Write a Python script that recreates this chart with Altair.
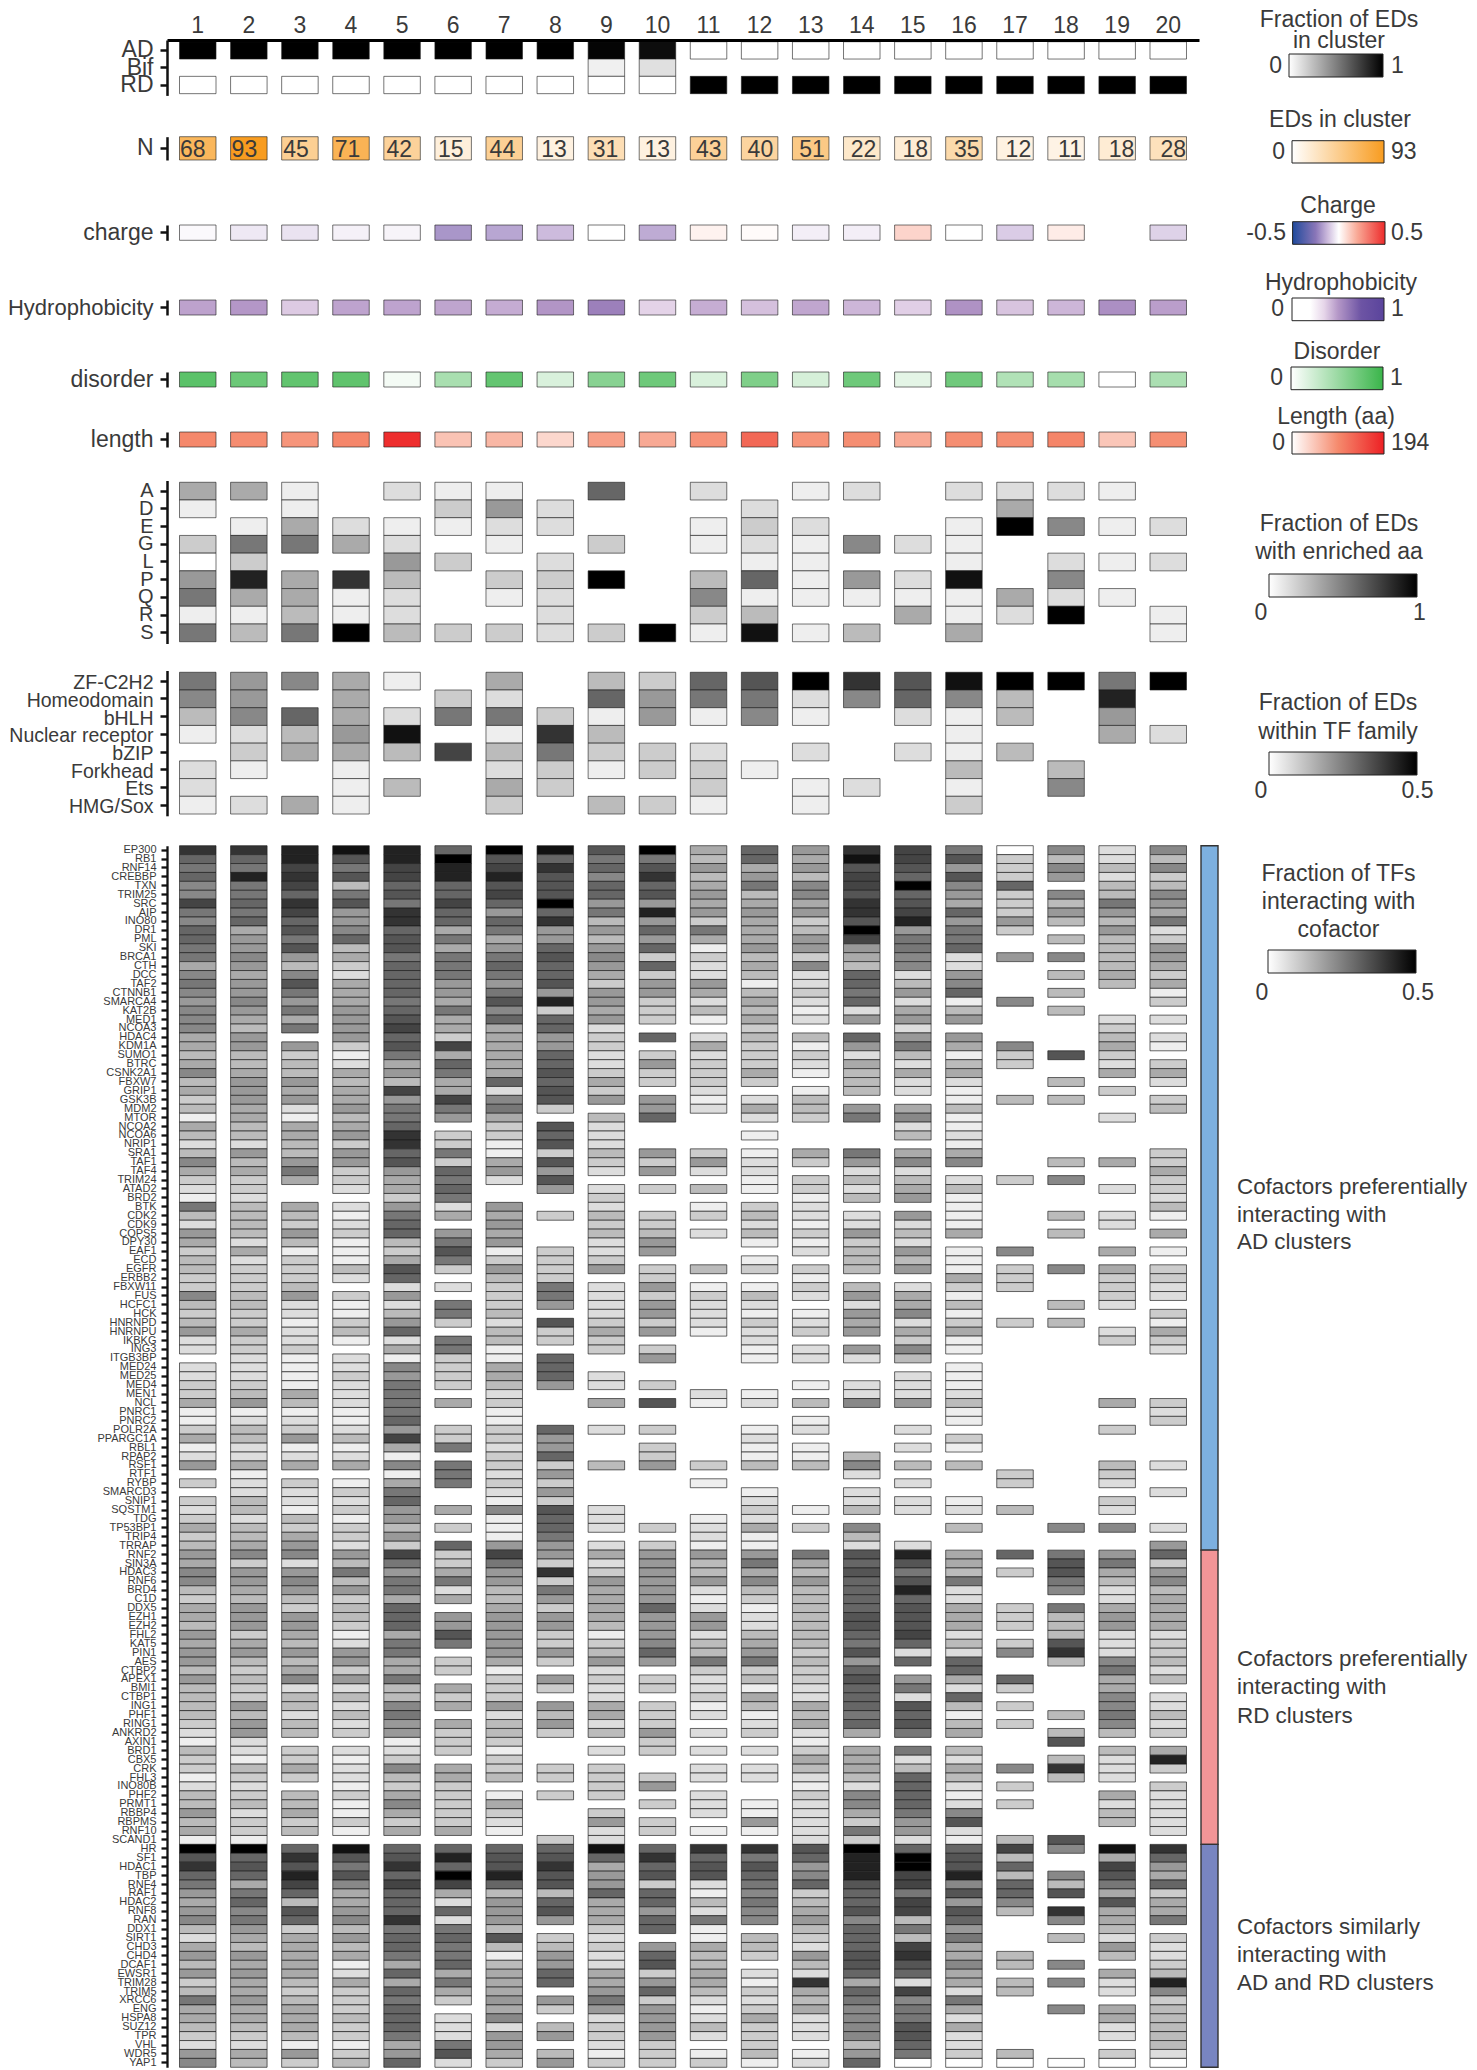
import altair as alt
import pandas as pd

FONT = "Liberation Sans"
TEXT = "#3a3a3a"
CLUSTERS = [str(i) for i in range(1, 21)]

AD = [1, 1, 1, 1, 1, 1, 1, 1, 0.98, 0.95, 0, 0, 0, 0, 0, 0, 0, 0, 0, 0]
BIF = [None] * 8 + [0.06, 0.12] + [None] * 10
RD = [0] * 10 + [1] * 10
N_EDS = [68, 93, 45, 71, 42, 15, 44, 13, 31, 13, 43, 40, 51, 22, 18, 35, 12, 11, 18, 28]
CHARGE = [-0.01, -0.04, -0.05, -0.025, -0.02, -0.19, -0.16, -0.12, 0.0, -0.15, 0.03, 0.01,
          -0.03, -0.03, 0.1, 0.0, -0.09, 0.045, None, -0.08]
HYDRO = [0.473, 0.5, 0.377, 0.47, 0.47, 0.467, 0.449, 0.507, 0.584, 0.356, 0.446, 0.401,
         0.464, 0.425, 0.365, 0.518, 0.392, 0.425, 0.528, 0.482]
DISORDER = [0.83, 0.746, 0.797, 0.807, 0.056, 0.437, 0.787, 0.193, 0.604, 0.736, 0.193, 0.65,
            0.208, 0.736, 0.137, 0.726, 0.396, 0.452, 0.0, 0.426]
LENGTH = [99, 95, 88, 101, 181, 50, 60, 33, 80, 71, 90, 128, 89, 94, 71, 94, 94, 102, 47, 93]

AA_ROWS = ["A", "D", "E", "G", "L", "P", "Q", "R", "S"]
AA_LEVELS = [
    "551.211.9.2.12.2221.",
    "1.1..362...2....5...",
    ".1521122..132..1f712",
    "38852.1.3.121721....",
    "03..63.2...11..1.212",
    "6d5c4.33f.49162e.7..",
    "85512.12..711111521.",
    "11412..2..34..512f.1",
    "848f43323f1e14.5...1",
]
TF_ROWS = ["ZF-C2H2", "Homeodomain", "bHLH", "Nuclear receptor", "bZIP", "Forkhead", "Ets", "HMG/Sox"]
TF_LEVELS = [
    "86751.5.439afcaeff8f",
    "76.5.32.968827974.d.",
    "4795288316171.214.6.",
    "1246e.1c4......1..52",
    ".3554b48332.2.214...",
    "21.1..231331...4.4..",
    "2..14.53..3.12.1.7..",
    "1251..3.431.1..3....",
]

COFACTORS = """EP300 RB1 RNF14 CREBBP TXN TRIM25 SRC AIP INO80 DR1 PML SKI BRCA1 CTH DCC TAF2 CTNNB1
SMARCA4 KAT2B MED1 NCOA3 HDAC4 KDM1A SUMO1 BTRC CSNK2A1 FBXW7 GRIP1 GSK3B MDM2 MTOR NCOA2 NCOA6
NRIP1 SRA1 TAF1 TAF4 TRIM24 ATAD2 BRD2 BTK CDK2 CDK9 COPS5 DPY30 EAF1 ECD EGFR ERBB2 FBXW11 FUS
HCFC1 HCK HNRNPD HNRNPU IKBKG ING3 ITGB3BP MED24 MED25 MED4 MEN1 NCL PNRC1 PNRC2 POLR2A PPARGC1A
RBL1 RPAP2 RSF1 RTF1 RYBP SMARCD3 SNIP1 SQSTM1 TDG TP53BP1 TRIP4 TRRAP RNF2 SIN3A HDAC3 RNF6 BRD4
C1D DDX5 EZH1 EZH2 FHL2 KAT5 PIN1 AES CTBP2 APEX1 BMI1 CTBP1 ING1 PHF1 RING1 ANKRD2 AXIN1 BRD1
CBX5 CRK FHL3 INO80B PHF2 PRMT1 RBBP4 RBPMS RNF10 SCAND1 HR SF1 HDAC1 TBP RNF4 RAF1 HDAC2 RNF8 RAN
DDX1 SIRT1 CHD3 CHD4 DCAF1 EWSR1 TRIM28 TRIM5 XRCC6 ENG HSPA8 SUZ12 TPR VHL WDR5 YAP1""".split()

# one string per cluster, one hex digit per cofactor (darkness level), "." = no cell
C01 = ["c98977b879988578767775545745341542", "47532184265344337434622.22335113512", "6.3.32353465774355465664644443", "2143", "312446451fac9865674256463485543267"]
C02 = ["c98d889895667656676546644566655442", "64533244442523334433533222346124422", "5122442445736654666356434336466221", "432342331f9a958978654656556554", "3254"]
C03 = ["ddbcb9cb9a8a647a86858.63446562", "1554", "4685..54364133346221223111154123612", "5.322143567267643665464572442", "44.33", "53.44534.9cadb94a93555554345554163"]
C04 = ["ea8a48a667945325556666312545564563", "66332.212311142.311341.223222112412", "5.13231332648463443126636242423.21", "22131131.ea8a755674645125333433134"]
C05 = ["ddbb9a8cc9aa8999989ab9a8564b6889cc", "9a65536899435a926246925176888896b51", "7158966463b86885999588558447866123", "74357535.9ac9b999c8998595989998569"]
C06 = ["9fdd99b995858886658553b59855b86.33", "83989825.68a83.2.883.883333.5..338.", "888..5.3.9335825.66a8.33.535.5333.", "55333335.9d9fb5292898895853.2228a2"]
C07 = ["fabdab96985689868a7955555592785331", "1562..65656136433342441155423113323", "3232171116b86644566666513336244313", "34.15321.9aad946664a41455565726653"]
C08 = ["e9caaaf9c669a99a6d3996699a9aa3.a9a", "3a6a6..3...3333886.a33.9996....9669", "36363a998663c3863663363.63.6463...", "33.3....39acaa49a6.346699.63.46.46"]
C09 = ["a8979968464676536656233223536.4222", "432.2324342236.22223533..22.5..2...", "4....222.2523655554134623225524.2.", "3333.3622e956695553232255686233213"]
C10 = ["f8ac9a6d696939366333.9.3633.669...", "636.3..33466.33636636.36..3.a..3.33", "6......3.36666669666796.33.333633.", ".36.3.33.9c9a399699.69a36936666333"]
C11 = ["54645656385132265241.252333212....", "362.4.13.2...4.132221......21......", "3.1...12216446212662448322312.2.2.", "22.222.1.c9aa214281154455421242.13"]
C12 = ["995684565556454145453433353.252.1.", "12211.34241.13.142132211...12..1211", "4..1232511685743122456834154123.2.", "22..1161.c8a987877.443.21323533341"]
C13 = ["6564775634663722", "3212.41321.1443...", "53.331221312.3132.123.22..1.4.12.11", "4....1.3..854644444443433225452135", "421322222a96793456432642c545222.12"]
C14 = ["ceabbaccafb654998926.9625444.68...", "862424.2263444.462656.62..227.....4", "72.224.742a9a9999aa98a69a999895.55", "542775383fddda99a7999aa95987777469"]
C15 = ["bba9f9abd6887724625626842522.5724.", "572456.6242646.255725374.2226..2.2.", "4.2.22...2da8ad9aaab929.682a9a8.82", "4999986629ffbb8bb484bca92b788aa980"]
C16 = ["8a6a7659688922679146.6514521141121", "57.2411115.111531413511.1112411.31.", "4...12.4..554822555242995294145.42", "542127a219aad7a6a96855755285252230"]
C17 = ["0333933363..6....7....733...4.....", "...3.......7.333...3...............", ".33..4....9.3...333.37..93.3.3....", "7.3.3...4b4949974....44.44......40"]
C18 = ["7476.7464.4.7.4.4.4....a..4.4.....", ".4.7...4.4...7...4.4...............", ".......7..8aa87.8444ac4.....4.4a.4", "c4......a7..74a.c7.4..7.7..7.....0"]
C19 = ["2242448646444454...2345325.3..2...", ".5..2..22..5.53332..23......5..3...", "432.32.7..685422566222785577874.42", "22.5244..e5ba85a554264.522.5522.30"]
C20 = ["747347658236653513.2.21.352.34....", "33533241.5.1.3322.31532.....323....", "2..2...2.6936745555233424.22423.5d", "3.322222.c96593558.32234d734444420"]
CLUSTER_LEVELS = [C01, C02, C03, C04, C05, C06, C07, C08, C09, C10,
                  C11, C12, C13, C14, C15, C16, C17, C18, C19, C20]

GROUP_SIZES = [79, 33, 25]
GROUP_COLORS = ["#7DB0DF", "#F29597", "#7885C1"]

# ---------- layout (plot coordinates = page coordinates - 8) ----------
X_RANGE = [159, 1191]


def x_enc(axis=None):
    return alt.X("cluster:N", title=None, axis=axis,
                 scale=alt.Scale(domain=CLUSTERS, range=X_RANGE, paddingInner=0.2855,
                                 paddingOuter=0.245, round=False))


def y_enc(rows, yrange, padding_outer=0.0, axis=None):
    return alt.Y("row:N", title=None, axis=axis,
                 scale=alt.Scale(domain=rows, range=yrange, paddingInner=0,
                                 paddingOuter=padding_outer, round=False))


def y_axis(size, tick=7, pad=7, width=2.5, label_offset=0):
    return alt.Axis(orient="left", offset=-159, labelFont=FONT, labelFontSize=size, labelColor=TEXT,
                    labelPadding=pad, labelLimit=400, labelOverlap=False, labelAngle=0, labelOffset=label_offset,
                    domainColor="#111", domainWidth=width, tickColor="#111", tickWidth=width,
                    tickSize=tick, grid=False)


def cells(records, rows, yrange, scale, size, padding_outer=0.0, x_axis=None, tick=7, pad=7, width=2.5,
          stroke_opacity=0.6, label_offset=0):
    frame = pd.DataFrame([r for r in records if r["value"] is not None])
    return alt.Chart(frame).mark_rect(stroke="#1a1a1a", strokeWidth=1, strokeOpacity=stroke_opacity).encode(
        x=x_enc(x_axis),
        y=y_enc(rows, yrange, padding_outer, y_axis(size, tick, pad, width, label_offset)),
        color=alt.Color("value:Q", scale=scale, legend=None),
    )


def series(row, values):
    return [{"cluster": c, "row": row, "value": v} for c, v in zip(CLUSTERS, values)]


def level_table(row_names, level_strings, top):
    out = []
    for name, s in zip(row_names, level_strings):
        out += series(name, [None if ch == "." else top * int(ch, 16) / 15 for ch in s])
    return out


GRAY1 = alt.Scale(domain=[0, 1], range=["#ffffff", "#000000"], interpolate="rgb")
GRAY05 = alt.Scale(domain=[0, 0.5], range=["#ffffff", "#000000"], interpolate="rgb")
ORANGE = ["#ffffff", "#F89C20"]
CH_DOM = [-0.5, -0.25, -0.12, 0, 0.2, 0.5]
CH_COL = ["#1f4a9c", "#8a76b8", "#cdbbdd", "#ffffff", "#f9a996", "#ed2b2b"]
HY_DOM = [0, 0.2, 0.35, 0.5, 0.75, 1]
HY_COL = ["#ffffff", "#ffffff", "#e6d5e9", "#b497c7", "#6d54a4", "#5a449c"]
GREEN = ["#ffffff", "#3AB54A"]
LE_DOM = [0, 97, 194]
LE_COL = ["#ffffff", "#F58A6D", "#ED2024"]

layers = []

top_axis = alt.Axis(orient="top", offset=-32, labelFont=FONT, labelFontSize=23, labelColor=TEXT, labelAngle=0,
                    labelPadding=3, ticks=False, domainColor="#000", domainWidth=3, grid=False)
layers.append(cells(series("AD", AD) + series("Bif", BIF) + series("RD", RD), ["AD", "Bif", "RD"], [32, 87.4],
                    GRAY1, 23, padding_outer=0.1, x_axis=top_axis))

scale_n = alt.Scale(domain=[0, 93], range=ORANGE, interpolate="rgb")
layers.append(cells(series("N", N_EDS), ["N"], [128.7, 152], scale_n, 23))
layers.append(alt.Chart(pd.DataFrame(series("N", N_EDS))).mark_text(
    font=FONT, fontSize=23, color=TEXT, align="center", baseline="middle", dy=2).encode(
    x=x_enc(), y=y_enc(["N"], [128.7, 152]), text="value:Q"))

layers.append(cells(series("charge", CHARGE), ["charge"], [217, 232.3],
                    alt.Scale(domain=CH_DOM, range=CH_COL, interpolate="rgb"), 23))
layers.append(cells(series("Hydrophobicity", HYDRO), ["Hydrophobicity"], [292, 307],
                    alt.Scale(domain=HY_DOM, range=HY_COL, interpolate="rgb"), 22))
layers.append(cells(series("disorder", DISORDER), ["disorder"], [364, 379],
                    alt.Scale(domain=[0, 1], range=GREEN, interpolate="rgb"), 23))
layers.append(cells(series("length", LENGTH), ["length"], [424, 439],
                    alt.Scale(domain=LE_DOM, range=LE_COL, interpolate="rgb"), 23))

layers.append(cells(level_table(AA_ROWS, AA_LEVELS, 1), AA_ROWS, [472.5, 635.5], GRAY1, 20, padding_outer=0.1))
layers.append(cells(level_table(TF_ROWS, TF_LEVELS, 0.5), TF_ROWS, [662.5, 807.8], GRAY05, 19.5,
                    padding_outer=0.1, label_offset=2))

cof_records = []
for cluster, parts in zip(CLUSTERS, CLUSTER_LEVELS):
    s = "".join(parts)
    if len(s) != len(COFACTORS):
        s = s.ljust(len(COFACTORS), ".")[:len(COFACTORS)]
    for name, ch in zip(COFACTORS, s):
        if ch != ".":
            cof_records.append({"cluster": cluster, "row": name, "value": 0.5 * int(ch, 16) / 15})
layers.append(cells(cof_records, COFACTORS, [837.7, 2059.3], GRAY05, 11, tick=6, pad=5, width=2.3, stroke_opacity=0.65))

# group bars beside the cofactor table
start = 0
bars = []
for size, colour in zip(GROUP_SIZES, GROUP_COLORS):
    bars.append({"start": start, "end": start + size, "colour": colour, "a": 0, "b": 1})
    start += size
layers.append(alt.Chart(pd.DataFrame(bars)).mark_rect(stroke="#333", strokeWidth=1.4).encode(
    x=alt.X("a:Q", axis=None, scale=alt.Scale(domain=[0, 1], range=[1193, 1210], nice=False)),
    x2="b:Q",
    y=alt.Y("start:Q", axis=None, scale=alt.Scale(domain=[0, 137], range=[837.7, 2059.3], nice=False, zero=False)),
    y2="end:Q",
    color=alt.Color("colour:N", scale=None, legend=None),
))


def gradient_bar(lo, hi, x0, x1, y0, y1, colours, offsets=None):
    n = len(colours)
    offs = offsets if offsets else [i / (n - 1) for i in range(n)]
    grad = alt.Gradient(gradient="linear", x1=0, x2=1, y1=0, y2=0,
                        stops=[alt.GradientStop(color=c, offset=o) for c, o in zip(colours, offs)])
    return alt.Chart(pd.DataFrame([{"lo": lo, "hi": hi}])).mark_rect(fill=grad, stroke="#222", strokeWidth=1).encode(
        x=alt.X("lo:Q", axis=None, scale=alt.Scale(domain=[lo, hi], range=[x0, x1], nice=False, zero=False)),
        x2="hi:Q",
        y=alt.value(y0),
        y2=alt.value(y1),
    )


layers.append(gradient_bar(0, 1, 1281, 1375, 46, 69, ["#ffffff", "#000000"]))
layers.append(gradient_bar(0, 93, 1284, 1376, 132.7, 155, ORANGE))
layers.append(gradient_bar(-0.5, 0.5, 1284.6, 1377, 213.7, 236.3, CH_COL, [(d + 0.5) for d in CH_DOM]))
layers.append(gradient_bar(0, 1, 1284, 1376, 290, 312.7, HY_COL, HY_DOM))
layers.append(gradient_bar(0, 1, 1283, 1375, 359, 381.7, GREEN))
layers.append(gradient_bar(0, 194, 1284, 1376, 424, 446, LE_COL))
layers.append(gradient_bar(0, 1, 1261, 1409, 566, 589, ["#ffffff", "#000000"]))
layers.append(gradient_bar(0, 0.5, 1261, 1409, 744, 767, ["#ffffff", "#000000"]))
layers.append(gradient_bar(0, 0.5, 1260, 1408, 942, 965, ["#ffffff", "#000000"]))

# text: (string, x, y) in plot coordinates
CENTER_TEXT = [
    ("Fraction of EDs", 1331, 12), ("in cluster", 1331, 33), ("EDs in cluster", 1332, 112),
    ("Charge", 1330, 197.7), ("Hydrophobicity", 1333, 274.7), ("Disorder", 1329, 344), ("Length (aa)", 1328, 409),
    ("Fraction of EDs", 1331, 516), ("with enriched aa", 1331, 544), ("0", 1253, 605), ("1", 1411.5, 605),
    ("Fraction of EDs", 1330, 695), ("within TF family", 1330, 724), ("0", 1253, 783), ("0.5", 1409.5, 783),
    ("Fraction of TFs", 1330.5, 866), ("interacting with", 1330.5, 894), ("cofactor", 1330.5, 922),
    ("0", 1254, 985), ("0.5", 1410, 985),
]
RIGHT_TEXT = [("0", 1274, 57.7), ("0", 1277, 143.7), ("-0.5", 1278, 225), ("0", 1276, 301), ("0", 1275, 370), ("0", 1277, 435)]
LEFT_TEXT = [
    ("1", 1383, 57.7), ("93", 1383, 143.7), ("0.5", 1383, 225), ("1", 1383, 301), ("1", 1382, 370), ("194", 1383, 435),
]
NOTE_TEXT = [
    ("Cofactors preferentially", 1229, 1179), ("interacting with", 1229, 1207), ("AD clusters", 1229, 1234),
    ("Cofactors preferentially", 1229, 1651), ("interacting with", 1229, 1679), ("RD clusters", 1229, 1708),
    ("Cofactors similarly", 1229, 1919), ("interacting with", 1229, 1947), ("AD and RD clusters", 1229, 1975),
]
for items, align, fsize in [(CENTER_TEXT, "center", 23), (RIGHT_TEXT, "right", 23), (LEFT_TEXT, "left", 23),
                            (NOTE_TEXT, "left", 22.4)]:
    frame = pd.DataFrame(items, columns=["t", "px", "py"])
    layers.append(alt.Chart(frame).mark_text(font=FONT, fontSize=fsize, color=TEXT, align=align, baseline="middle").encode(
        x=alt.X("px:Q", scale=None, axis=None),
        y=alt.Y("py:Q", scale=None, axis=None),
        text="t:N",
    ))

chart = alt.layer(*layers).resolve_scale(x="independent", y="independent", color="independent").properties(
    width=1461, height=2060, padding=0, autosize=alt.AutoSizeParams(type="none"), background="white",
).configure_view(stroke=None)

chart.save("out.html", embed_options={"renderer": "svg", "actions": False})
